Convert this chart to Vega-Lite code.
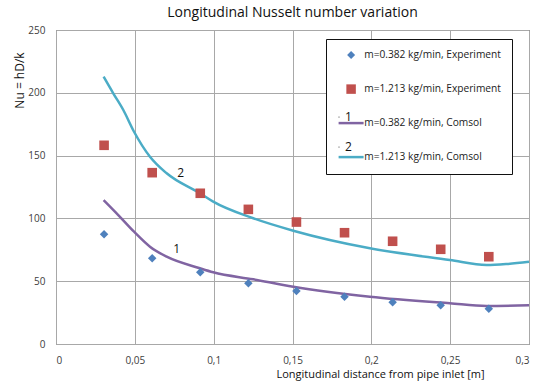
{
  "$schema": "https://vega.github.io/schema/vega-lite/v6.json",
  "width": 473,
  "height": 314,
  "autosize": {"type": "none"},
  "padding": {"left": 56, "top": 30, "right": 6, "bottom": 43},
  "background": "white",
  "title": {"text": "Longitudinal Nusselt number variation", "fontSize": 14, "fontWeight": "normal", "font": "Open Sans", "color": "#111", "offset": 5},
  "config": {
    "view": {"stroke": "#303030", "strokeWidth": 1},
    "font": "Open Sans",
    "axis": {"gridColor": "#a8a8a8", "gridWidth": 1, "domainColor": "#a8a8a8", "ticks": false, "labelFontSize": 10, "labelColor": "#404040", "titleFontWeight": "normal", "titleColor": "#111"}
  },
  "encoding": {
    "x": {"field": "x", "type": "quantitative", "scale": {"domain": [0, 0.3], "nice": false},
      "axis": {"values": [0, 0.05, 0.1, 0.15, 0.2, 0.25, 0.3], "labelExpr": "replace(format(datum.value, '~g'), '.', ',')", "labelPadding": 11, "title": "Longitudinal distance from pipe inlet [m]", "titleFontSize": 11, "titleX": 324, "titleY": 33, "titleBaseline": "alphabetic", "titleAlign": "center"}},
    "y": {"field": "y", "type": "quantitative", "scale": {"domain": [0, 250], "nice": false},
      "axis": {"values": [0, 50, 100, 150, 200, 250], "labelPadding": 11, "title": "Nu = hD/k", "titleFontSize": 12, "titleX": -37, "titleY": 50, "titleAngle": -90, "titleAlign": "center", "titleBaseline": "middle"}}
  },
  "layer": [
    {
      "data": {"values": [
        {"series": "m=0.382 kg/min, Comsol", "x": 0.0302, "y": 114.6},
        {"series": "m=0.382 kg/min, Comsol", "x": 0.0395, "y": 102.7},
        {"series": "m=0.382 kg/min, Comsol", "x": 0.0495, "y": 89.4},
        {"series": "m=0.382 kg/min, Comsol", "x": 0.0596, "y": 77.5},
        {"series": "m=0.382 kg/min, Comsol", "x": 0.0702, "y": 69.5},
        {"series": "m=0.382 kg/min, Comsol", "x": 0.0913, "y": 60.3},
        {"series": "m=0.382 kg/min, Comsol", "x": 0.0997, "y": 57.1},
        {"series": "m=0.382 kg/min, Comsol", "x": 0.1251, "y": 51.5},
        {"series": "m=0.382 kg/min, Comsol", "x": 0.1505, "y": 45.6},
        {"series": "m=0.382 kg/min, Comsol", "x": 0.1991, "y": 37.7},
        {"series": "m=0.382 kg/min, Comsol", "x": 0.2498, "y": 32.4},
        {"series": "m=0.382 kg/min, Comsol", "x": 0.2731, "y": 30.3},
        {"series": "m=0.382 kg/min, Comsol", "x": 0.3, "y": 30.8},
        {"series": "m=1.213 kg/min, Comsol", "x": 0.0302, "y": 212.8},
        {"series": "m=1.213 kg/min, Comsol", "x": 0.0363, "y": 199.6},
        {"series": "m=1.213 kg/min, Comsol", "x": 0.0427, "y": 186.3},
        {"series": "m=1.213 kg/min, Comsol", "x": 0.0495, "y": 169.0},
        {"series": "m=1.213 kg/min, Comsol", "x": 0.0596, "y": 149.1},
        {"series": "m=1.213 kg/min, Comsol", "x": 0.0702, "y": 135.9},
        {"series": "m=1.213 kg/min, Comsol", "x": 0.0913, "y": 120.0},
        {"series": "m=1.213 kg/min, Comsol", "x": 0.0997, "y": 113.3},
        {"series": "m=1.213 kg/min, Comsol", "x": 0.1251, "y": 100.1},
        {"series": "m=1.213 kg/min, Comsol", "x": 0.1505, "y": 90.2},
        {"series": "m=1.213 kg/min, Comsol", "x": 0.1991, "y": 76.2},
        {"series": "m=1.213 kg/min, Comsol", "x": 0.2498, "y": 66.9},
        {"series": "m=1.213 kg/min, Comsol", "x": 0.2731, "y": 62.9},
        {"series": "m=1.213 kg/min, Comsol", "x": 0.2858, "y": 63.7},
        {"series": "m=1.213 kg/min, Comsol", "x": 0.3, "y": 65.5}
      ]},
      "mark": {"type": "line", "interpolate": "monotone", "strokeWidth": 2.5},
      "encoding": {
        "color": {"field": "series", "type": "nominal",
          "scale": {"domain": ["m=0.382 kg/min, Experiment", "m=1.213 kg/min, Experiment", "m=0.382 kg/min, Comsol", "m=1.213 kg/min, Comsol"], "range": ["#4F81BD", "#C0504D", "#8064A2", "#4BACC6"]},
          "legend": {"title": null, "orient": "none", "legendX": 270, "legendY": 9, "fillColor": "white", "strokeColor": "#111", "padding": 11, "rowPadding": 23, "symbolSize": 625, "symbolOffset": 9, "labelFontSize": 10.2, "labelColor": "#222", "labelFont": "Open Sans", "labelOffset": 8, "labelLimit": 300, "zindex": 1,
            "labelExpr": "datum.label + '     '",
            "encode": {"symbols": {"update": {
              "shape": {"signal": "datum.value == 'm=0.382 kg/min, Experiment' ? 'diamond' : (datum.value == 'm=1.213 kg/min, Experiment' ? 'square' : 'stroke')"},
              "size": {"signal": "datum.value == 'm=0.382 kg/min, Experiment' ? 64 : (datum.value == 'm=1.213 kg/min, Experiment' ? 90 : 625)"},
              "fill": {"scale": "color", "field": "value"},
              "stroke": {"scale": "color", "field": "value"},
              "strokeWidth": {"signal": "datum.value == 'm=0.382 kg/min, Experiment' || datum.value == 'm=1.213 kg/min, Experiment' ? 0 : 2.5"},
              "opacity": {"value": 1}
            }}}
          }
        }
      }
    },
    {
      "data": {"values": [
        {"series": "m=0.382 kg/min, Experiment", "x": 0.0305, "y": 87.3},
        {"series": "m=0.382 kg/min, Experiment", "x": 0.061, "y": 68.2},
        {"series": "m=0.382 kg/min, Experiment", "x": 0.0915, "y": 57.1},
        {"series": "m=0.382 kg/min, Experiment", "x": 0.122, "y": 48.3},
        {"series": "m=0.382 kg/min, Experiment", "x": 0.1525, "y": 42.2},
        {"series": "m=0.382 kg/min, Experiment", "x": 0.183, "y": 37.7},
        {"series": "m=0.382 kg/min, Experiment", "x": 0.2135, "y": 33.2},
        {"series": "m=0.382 kg/min, Experiment", "x": 0.244, "y": 30.8},
        {"series": "m=0.382 kg/min, Experiment", "x": 0.2745, "y": 28.1},
        {"series": "m=1.213 kg/min, Experiment", "x": 0.0305, "y": 158.2},
        {"series": "m=1.213 kg/min, Experiment", "x": 0.061, "y": 136.4},
        {"series": "m=1.213 kg/min, Experiment", "x": 0.0915, "y": 120.0},
        {"series": "m=1.213 kg/min, Experiment", "x": 0.122, "y": 107.2},
        {"series": "m=1.213 kg/min, Experiment", "x": 0.1525, "y": 97.1},
        {"series": "m=1.213 kg/min, Experiment", "x": 0.183, "y": 88.6},
        {"series": "m=1.213 kg/min, Experiment", "x": 0.2135, "y": 81.8},
        {"series": "m=1.213 kg/min, Experiment", "x": 0.244, "y": 75.4},
        {"series": "m=1.213 kg/min, Experiment", "x": 0.2745, "y": 69.5}
      ]},
      "mark": {"type": "point", "filled": true, "opacity": 1},
      "encoding": {
        "color": {"field": "series", "type": "nominal"},
        "shape": {"field": "series", "type": "nominal", "legend": null,
          "scale": {"domain": ["m=0.382 kg/min, Experiment", "m=1.213 kg/min, Experiment"], "range": ["diamond", "square"]}},
        "size": {"field": "series", "type": "nominal", "legend": null,
          "scale": {"domain": ["m=0.382 kg/min, Experiment", "m=1.213 kg/min, Experiment"], "range": [72, 92]}}
      }
    },
    {
      "data": {"values": [
        {"num": "1", "x": 0.0765, "y": 75.4},
        {"num": "2", "x": 0.0791, "y": 136.4}
      ]},
      "mark": {"type": "text", "fontSize": 12, "color": "#111", "font": "Open Sans"},
      "encoding": {
        "text": {"field": "num"},
        "opacity": {"field": "num", "type": "ordinal", "scale": {"range": [1, 1]},
          "legend": {"title": null, "orient": "none", "legendX": 277, "legendY": 81, "padding": 0, "symbolSize": 1, "symbolOpacity": 0, "symbolStrokeWidth": 0, "symbolFillColor": "transparent", "symbolStrokeColor": "transparent", "labelOffset": 0, "labelFontSize": 12, "labelColor": "#111", "labelFont": "Open Sans", "rowPadding": 18, "zindex": 2,
            "encode": {"symbols": {"update": {"opacity": {"value": 0}, "fillOpacity": {"value": 0}, "strokeOpacity": {"value": 0}, "size": {"value": 0}, "fill": {"value": "transparent"}, "stroke": {"value": "transparent"}}}}}}
      }
    }
  ]
}
